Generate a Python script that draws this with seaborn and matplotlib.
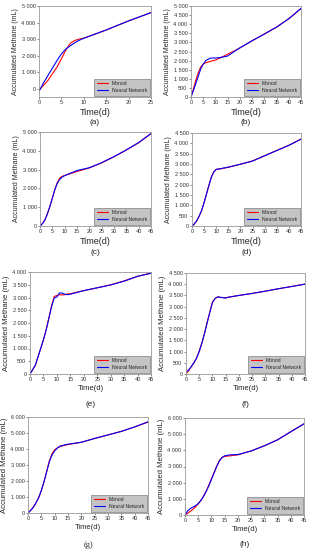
import numpy as np
import pandas as pd
import matplotlib
matplotlib.use('Agg')
import matplotlib.pyplot as plt
from matplotlib.ticker import FuncFormatter
import seaborn as sns

sns.set_style('white')
plt.rcParams['font.family'] = ['Liberation Sans', 'DejaVu Sans']

# data, one set per panel
t_a = [0, 1, 2, 3, 4, 5, 6, 7, 8, 9, 10, 12, 15, 20, 25]
monod_a = [-100, 200, 500, 900, 1300, 1800, 2350, 2750, 2920, 3000, 3060, 3250, 3550, 4100, 4600]
nn_a = [-150, 350, 800, 1250, 1700, 2100, 2400, 2600, 2780, 2930, 3050, 3250, 3550, 4100, 4600]

t_b = [0, 1, 2, 3, 4, 5, 6, 8, 10, 12, 15, 18, 20, 25, 30, 35, 40, 45]
monod_b = [0, 450, 940, 1350, 1650, 1820, 1880, 1960, 2030, 2150, 2350, 2550, 2700, 3090, 3460, 3840, 4300, 4860]
nn_b = [0, 350, 760, 1150, 1550, 1800, 2000, 2140, 2140, 2170, 2250, 2530, 2700, 3090, 3460, 3840, 4300, 4870]

t_c = [0, 1, 2, 3, 4, 5, 6, 7, 8, 9, 10, 12, 15, 20, 25, 30, 35, 40, 45]
monod_c = [0, 130, 320, 650, 1040, 1480, 1930, 2300, 2550, 2640, 2690, 2770, 2900, 3090, 3360, 3680, 4040, 4430, 4910]
nn_c = [0, 130, 320, 650, 1040, 1480, 1930, 2280, 2480, 2600, 2680, 2790, 2950, 3100, 3370, 3690, 4050, 4440, 4920]

t_d = [0, 1, 2, 3, 4, 5, 6, 7, 8, 9, 10, 12, 15, 20, 25, 30, 35, 40, 45]
monod_d = [0, 100, 260, 480, 750, 1130, 1560, 1980, 2380, 2620, 2740, 2770, 2840, 2990, 3150, 3400, 3660, 3910, 4210]
nn_d = [0, 110, 270, 490, 760, 1140, 1560, 1970, 2360, 2610, 2740, 2780, 2850, 2990, 3140, 3400, 3650, 3900, 4200]

t_e = [0, 1, 2, 3, 4, 5, 6, 7, 8, 9, 10, 11, 12, 13, 14, 15, 20, 25, 30, 35, 40, 45]
monod_e = [0, 170, 350, 680, 1010, 1340, 1740, 2200, 2670, 3040, 3080, 3110, 3100, 3110, 3140, 3150, 3270, 3380, 3500, 3650, 3830, 3960]
nn_e = [0, 170, 350, 680, 1010, 1340, 1720, 2170, 2630, 2980, 3020, 3180, 3170, 3130, 3110, 3130, 3270, 3380, 3490, 3640, 3830, 3950]

t_f = [0, 1, 2, 3, 4, 5, 6, 7, 8, 9, 10, 11, 12, 13, 15, 16, 20, 25, 30, 35, 40, 45]
monod_f = [0, 150, 330, 500, 710, 1020, 1390, 1820, 2300, 2760, 3210, 3360, 3430, 3410, 3400, 3420, 3500, 3590, 3690, 3800, 3900, 4010]
nn_f = [100, 180, 330, 500, 710, 1000, 1370, 1800, 2280, 2740, 3180, 3370, 3440, 3420, 3380, 3420, 3500, 3590, 3690, 3800, 3900, 4000]

t_g = [0, 1, 2, 3, 4, 5, 6, 7, 8, 9, 10, 11, 12, 14, 15, 20, 25, 30, 35, 40, 45]
monod_g = [0, 170, 360, 640, 960, 1400, 1950, 2600, 3250, 3700, 3950, 4070, 4150, 4240, 4280, 4420, 4660, 4880, 5100, 5380, 5680]
nn_g = [0, 170, 360, 640, 960, 1400, 1950, 2570, 3200, 3620, 3880, 4060, 4180, 4270, 4300, 4420, 4660, 4880, 5100, 5380, 5700]

t_h = [0, 1, 2, 3, 4, 5, 6, 7, 8, 9, 10, 11, 12, 13, 14, 15, 17, 20, 25, 30, 35, 40, 45]
monod_h = [0, 100, 230, 350, 500, 700, 900, 1150, 1480, 1840, 2240, 2630, 3030, 3370, 3560, 3620, 3660, 3720, 3960, 4280, 4650, 5150, 5640]
nn_h = [0, 250, 400, 480, 580, 700, 900, 1150, 1450, 1800, 2200, 2600, 3000, 3330, 3560, 3660, 3720, 3740, 3960, 4280, 4650, 5150, 5640]

captions = ['(a)', '(b)', '(c)', '(d)', '(e)', '(f)', '(g)', '(h)']
xmax_list = [25, 45, 45, 45, 45, 45, 45, 45]
ylim_list = [(-500, 5000), (0, 5000), (0, 5000), (0, 4500), (0, 4000), (0, 4500), (0, 6000), (0, 6000)]
ystep_list = [1000, 500, 1000, 500, 500, 500, 1000, 1000]

series = [(t_a, monod_a, nn_a), (t_b, monod_b, nn_b), (t_c, monod_c, nn_c), (t_d, monod_d, nn_d),
          (t_e, monod_e, nn_e), (t_f, monod_f, nn_f), (t_g, monod_g, nn_g), (t_h, monod_h, nn_h)]

W, H = 312, 550
# axes boxes in pixels: left, right, top, bottom
boxes = [(39, 151, 6, 97), (191, 301, 6, 97), (40, 151, 132, 226), (192, 301, 133, 226),
         (30, 151, 272, 374), (186, 305, 273, 374), (28, 148, 417, 513), (185, 304, 418, 515)]
# caption y, xlabel y in pixels
cap_y = [122, 122, 252, 252, 404, 404, 545, 545]

fig = plt.figure(figsize=(W / 100, H / 100), dpi=100)
fmt = FuncFormatter(lambda v, p: f'{int(v):,}'.replace(',', ' '))
palette = {'Monod': 'red', 'Neural Network': 'blue'}

for i, (t, mon, nn) in enumerate(series):
    l, r, top, bot = boxes[i]
    ax = fig.add_axes([l / W, 1 - bot / H, (r - l) / W, (bot - top) / H])
    df = pd.DataFrame({'t': t + t, 'v': mon + nn,
                       'model': ['Monod'] * len(t) + ['Neural Network'] * len(t)})
    sns.lineplot(data=df, x='t', y='v', hue='model', palette=palette, lw=0.8, ax=ax)
    ax.set_xlim(0, xmax_list[i])
    ax.set_ylim(*ylim_list[i])
    ax.set_xticks(np.arange(0, xmax_list[i] + 1, 5))
    y0 = max(0, ylim_list[i][0])
    ax.set_yticks(np.arange(y0, ylim_list[i][1] + 1, ystep_list[i]))
    ax.yaxis.set_major_formatter(fmt)
    ax.tick_params(labelsize=4, length=1.5, width=0.4, pad=1, colors='#333333')
    ax.tick_params(bottom=True, left=True)
    for s in ax.spines.values():
        s.set_color('#999999')
        s.set_linewidth(0.6)
    big = i >= 4
    ax.set_xlabel('Time(d)', fontsize=5.5 if big else 6.5, labelpad=1.5)
    ax.set_ylabel('Accumulated Methane (mL)', fontsize=5.6 if big else 5.0, labelpad=1.5)
    leg = ax.legend(loc='lower right', fontsize=3.6, frameon=True, fancybox=False,
                    facecolor='#c4c4c4', edgecolor='#666666', framealpha=1,
                    handlelength=2.2, borderaxespad=0.3, borderpad=0.5, labelspacing=0.4)
    leg.get_frame().set_linewidth(0.4)
    for line in leg.get_lines():
        line.set_linewidth(0.8)
    fam = ['Liberation Serif'] if i == 6 else ['Liberation Sans', 'DejaVu Sans']
    fig.text((l + r) / 2 / W, 1 - cap_y[i] / H, captions[i], ha='center', va='center',
             fontsize=6, family=fam)

fig.savefig('out.png', dpi=100)
